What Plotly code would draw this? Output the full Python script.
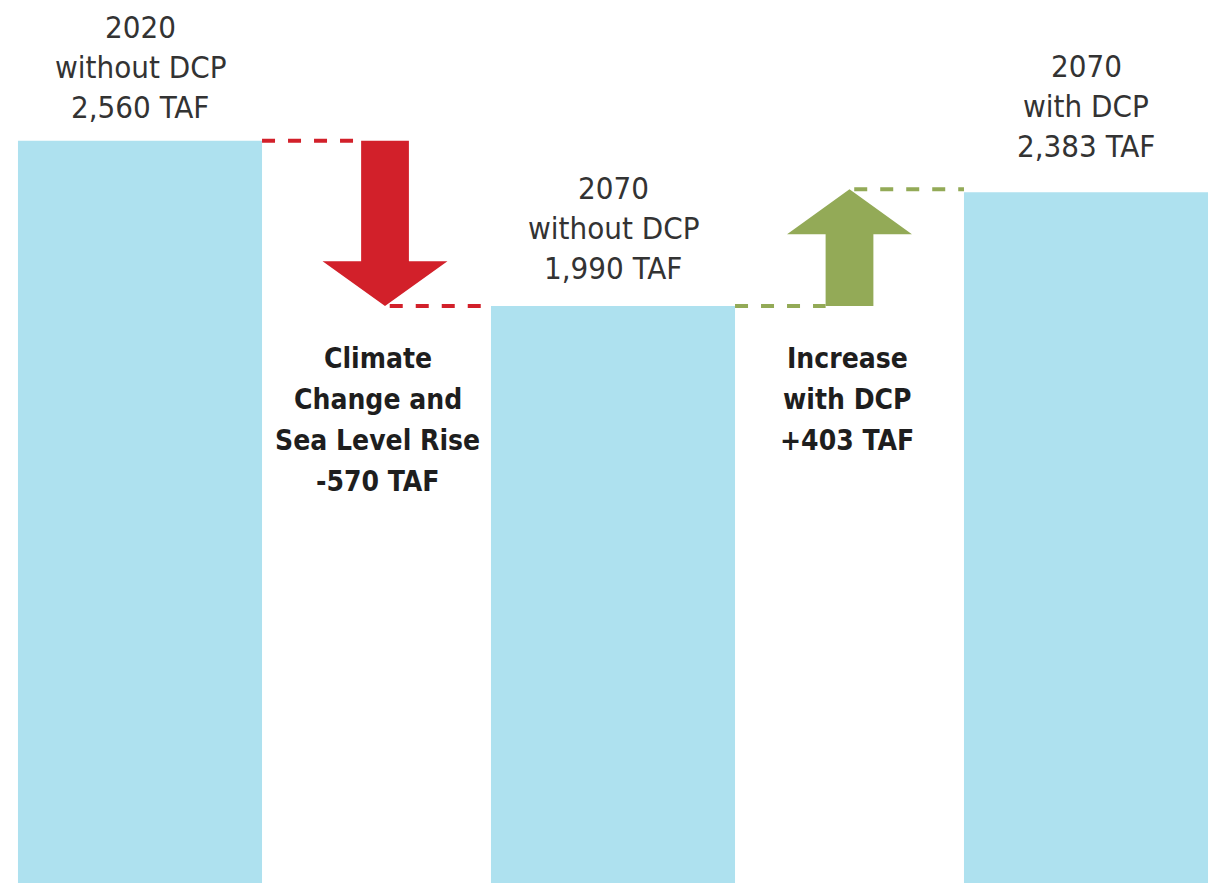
import plotly.graph_objects as go

# ---- data ----
years = ["2020", "2070", "2070"]
scenarios = ["without DCP", "without DCP", "with DCP"]
bar_values = [2560, 1990, 2383]
change_label_lines = [["Climate", "Change and", "Sea Level Rise"], ["Increase", "with DCP"]]
change_values = [-570, 403]
change_from = [0, 1]  # index of the bar each change starts from

# ---- layout constants ----
W, H = 1217, 883
OFF = 8  # page body margin offset (px)
PX_PER_X = 236.5
X0_PX = 140
PX_PER_Y = 0.2899
bar_x = [0, 2, 4]
arrow_x = [1.036, 3.0]
label_dx = [-0.03, -0.01]
label_extra_shift = [-1, 3, 11]
bar_width = 1.032
x_range = [(OFF - X0_PX) / PX_PER_X, (W + OFF - X0_PX) / PX_PER_X]
y_range = [(H - (H + OFF)) / PX_PER_Y, (H - OFF) / PX_PER_Y]
BAR_COLOR = "#AEE1EF"
ARROW_COLORS = ["#D2202A", "#93AA57"]
DASH_COLORS = ["#D2202A", "#93AA57"]
FONT = "Liberation Sans Narrow, Arial Narrow, DejaVu Sans Condensed, sans-serif"
shaft_half = 0.101
head_half = 0.264
head_len = 155  # in value units

fig = go.Figure()

fig.add_trace(go.Bar(
    x=bar_x, y=bar_values, width=bar_width,
    marker=dict(color=BAR_COLOR, line=dict(width=0)),
    hoverinfo="skip",
))

for i, (ax, ch) in enumerate(zip(arrow_x, change_values)):
    s = bar_values[change_from[i]]
    e = s + ch
    d = 1 if e > s else -1
    base = e - d * head_len
    xs = [ax - shaft_half, ax - shaft_half, ax - head_half, ax, ax + head_half,
          ax + shaft_half, ax + shaft_half, ax - shaft_half]
    ys = [s, base, base, e, base, base, s, s]
    fig.add_trace(go.Scatter(
        x=xs, y=ys, mode="lines", fill="toself",
        fillcolor=ARROW_COLORS[i], line=dict(width=0, color=ARROW_COLORS[i]),
        hoverinfo="skip",
    ))
    # connectors
    left_bar = bar_x[change_from[i]]
    right_bar = bar_x[change_from[i] + 1]
    dash = dict(color=DASH_COLORS[i], width=4, dash="13px,13px")
    fig.add_trace(go.Scatter(
        x=[left_bar + bar_width / 2, ax - shaft_half], y=[s, s],
        mode="lines", line=dash, hoverinfo="skip"))
    fig.add_trace(go.Scatter(
        x=[ax + 0.02, right_bar - bar_width / 2], y=[e, e],
        mode="lines", line=dash, hoverinfo="skip"))

annotations = []
TOP_SIZE = 31
LINE_GAP = 40
for k, (bx, yr, sc, v) in enumerate(zip(bar_x, years, scenarios, bar_values)):
    lines = [yr, sc, f"{v:,} TAF"]
    n = len(lines)
    for j, t in enumerate(lines):
        annotations.append(dict(
            x=bx, y=v, xref="x", yref="y", text=t, showarrow=False,
            xanchor="center", yanchor="middle", borderpad=0,
            yshift=24 + 11 + label_extra_shift[k] + (n - 1 - j) * LINE_GAP,
            font=dict(family=FONT, size=TOP_SIZE, color="#333333"),
        ))

BOLD_SIZE = 28
for ax, dx, lines, ch in zip(arrow_x, label_dx, change_label_lines, change_values):
    all_lines = lines + [f"{ch:+,} TAF"]
    for j, t in enumerate(all_lines):
        py = 358 + j * 41 - OFF
        annotations.append(dict(
            x=ax + dx, y=1 - py / H, xref="x", yref="paper",
            text=f"<b>{t}</b>", showarrow=False,
            xanchor="center", yanchor="middle", borderpad=0,
            font=dict(family=FONT, size=BOLD_SIZE, color="#1e1e1e"),
        ))

fig.update_layout(
    width=W, height=H,
    margin=dict(l=0, r=0, t=0, b=0),
    paper_bgcolor="white", plot_bgcolor="white",
    showlegend=False,
    xaxis=dict(range=x_range, visible=False, fixedrange=True),
    yaxis=dict(range=y_range, visible=False, fixedrange=True),
    annotations=annotations,
)

fig.write_html("out.html")
